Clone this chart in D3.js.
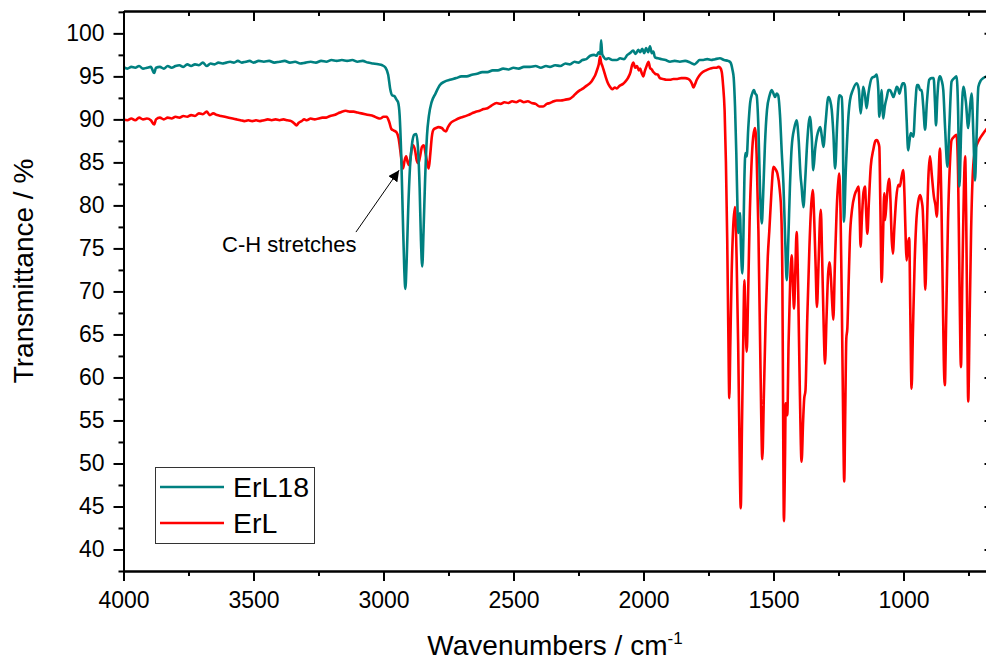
<!DOCTYPE html>
<html><head><meta charset="utf-8">
<script src="https://cdn.jsdelivr.net/npm/d3@7"></script>
<style>
html,body{margin:0;padding:0;background:#fff;}
svg text{font-family:"Liberation Sans",Arial,sans-serif;fill:#000;}
</style></head>
<body>
<svg id="chart" width="986" height="660"></svg>
<script>
// ---------- data ----------
const seriesNames = ["ErL18", "ErL"];
const seriesColors = ["#008080", "#ff0000"];
const xMajorTicks = [4000, 3500, 3000, 2500, 2000, 1500, 1000];
const yMajorTicks = [40, 45, 50, 55, 60, 65, 70, 75, 80, 85, 90, 95, 100];
const annotationText = "C-H stretches";

const erl18 = [[4000,96.1],[3985,95.9],[3970,96.1],[3955,96.0],[3940,96.2],[3925,95.9],[3910,96.0],[3895,96.1],[3882,95.4],[3875,96.0],[3860,96.1],[3845,95.9],[3830,96.2],[3815,96.0],[3800,96.2],[3785,96.3],[3770,96.1],[3755,96.4],[3740,96.2],[3725,96.4],[3710,96.3],[3695,96.6],[3680,96.2],[3665,96.5],[3650,96.4],[3635,96.6],[3620,96.5],[3605,96.6],[3590,96.7],[3575,96.6],[3560,96.8],[3545,96.6],[3530,96.7],[3515,96.8],[3500,96.6],[3480,96.8],[3460,96.7],[3440,96.8],[3420,96.6],[3400,96.7],[3380,96.8],[3360,96.6],[3340,96.7],[3320,96.5],[3300,96.6],[3280,96.7],[3260,96.6],[3240,96.8],[3220,96.7],[3200,96.9],[3180,96.8],[3160,96.9],[3140,96.8],[3120,96.9],[3100,96.7],[3080,96.8],[3060,96.6],[3040,96.5],[3020,96.4],[3005,96.3],[2992,96.0],[2982,95.2],[2974,93.5],[2967,92.8],[2958,92.7],[2950,92.3],[2944,92.0],[2938,90.5],[2932,86.0],[2926,79.0],[2920,72.5],[2916,70.3],[2911,73.5],[2905,79.5],[2898,84.5],[2890,87.2],[2882,88.2],[2874,88.3],[2867,86.5],[2861,82.0],[2856,76.0],[2851,72.9],[2846,77.0],[2840,83.0],[2833,88.0],[2825,90.5],[2815,92.0],[2800,93.0],[2783,94.0],[2765,94.4],[2745,94.6],[2720,94.8],[2700,95.0],[2680,95.0],[2660,95.2],[2640,95.3],[2620,95.5],[2600,95.5],[2580,95.7],[2560,95.7],[2540,95.9],[2520,95.8],[2500,96.0],[2480,95.9],[2460,96.1],[2437,96.1],[2415,96.2],[2395,96.0],[2375,96.2],[2360,96.1],[2340,96.3],[2320,96.2],[2300,96.5],[2283,96.4],[2265,96.7],[2250,96.6],[2235,96.9],[2220,97.0],[2205,97.4],[2190,97.5],[2180,97.4],[2173,97.8],[2166,97.6],[2163,99.2],[2159,97.6],[2152,97.2],[2145,97.0],[2135,97.1],[2120,96.9],[2103,96.9],[2090,97.1],[2075,97.0],[2062,97.5],[2052,97.7],[2040,98.0],[2030,97.6],[2020,98.1],[2013,97.8],[2005,98.2],[1997,97.7],[1990,98.3],[1982,97.8],[1975,98.5],[1968,97.7],[1962,97.9],[1956,97.2],[1945,97.1],[1930,97.0],[1915,96.9],[1898,96.7],[1880,96.8],[1860,96.7],[1840,96.8],[1820,96.6],[1805,96.4],[1795,96.6],[1785,96.9],[1770,96.9],[1755,97.0],[1740,96.9],[1725,97.0],[1706,97.1],[1690,96.9],[1675,96.8],[1665,96.6],[1658,95.8],[1653,94.8],[1648,91.5],[1643,86.0],[1638,79.0],[1635,76.8],[1632,78.0],[1629,79.1],[1625,75.0],[1620,72.1],[1616,76.0],[1612,83.0],[1608,86.1],[1603,85.7],[1597,89.0],[1590,91.9],[1582,93.0],[1575,93.4],[1570,93.0],[1565,92.8],[1558,89.0],[1552,82.0],[1545,77.9],[1540,81.0],[1533,87.0],[1525,91.1],[1515,92.8],[1507,93.4],[1500,93.0],[1494,92.6],[1488,93.0],[1482,92.8],[1475,90.5],[1468,86.0],[1462,82.6],[1455,76.0],[1449,71.3],[1443,76.0],[1437,82.0],[1430,86.8],[1420,89.0],[1411,89.9],[1403,87.5],[1396,83.5],[1392,82.2],[1385,79.8],[1378,83.0],[1370,87.5],[1360,90.3],[1353,88.0],[1347,84.1],[1340,86.5],[1333,88.0],[1326,88.8],[1320,89.1],[1314,88.0],[1308,86.8],[1300,89.5],[1289,92.6],[1282,92.2],[1276,91.1],[1270,88.5],[1263,84.3],[1255,89.5],[1247,92.8],[1238,92.6],[1234,90.0],[1229,78.1],[1222,84.0],[1212,90.3],[1206,92.2],[1195,93.4],[1180,94.2],[1172,93.5],[1165,90.7],[1160,92.0],[1155,93.8],[1148,92.8],[1142,91.3],[1135,93.0],[1122,94.8],[1110,95.0],[1103,95.2],[1097,93.5],[1093,90.3],[1088,92.0],[1084,93.4],[1081,91.5],[1078,90.1],[1072,91.5],[1064,92.6],[1058,93.4],[1052,93.4],[1045,93.0],[1039,92.6],[1032,93.2],[1026,93.8],[1020,93.5],[1016,93.0],[1010,93.6],[1003,94.2],[998,94.2],[994,93.8],[988,90.0],[982,86.4],[977,87.5],[972,88.4],[967,88.2],[962,88.0],[955,91.5],[948,94.0],[943,94.0],[936,93.4],[930,93.4],[924,91.5],[917,88.8],[910,92.0],[901,94.6],[892,94.8],[884,94.8],[879,92.0],[875,89.3],[870,92.5],[865,94.5],[860,95.0],[853,94.5],[847,93.4],[840,89.0],[831,84.5],[824,89.0],[815,94.4],[805,94.8],[796,95.0],[790,91.0],[785,82.2],[778,89.0],[770,93.8],[760,92.0],[751,89.0],[744,91.5],[738,93.0],[731,88.0],[725,82.9],[719,88.0],[712,93.8],[703,94.5],[693,94.8],[680,95.0],[665,95.1],[650,95.2]];

const erl = [[4000,90.0],[3985,89.9],[3970,90.1],[3955,89.9],[3940,90.2],[3925,90.0],[3910,90.1],[3895,89.9],[3882,89.4],[3875,90.0],[3860,90.2],[3845,90.0],[3830,90.2],[3815,90.1],[3800,90.3],[3785,90.2],[3770,90.4],[3755,90.3],[3740,90.5],[3725,90.4],[3710,90.7],[3695,90.6],[3680,90.9],[3668,90.5],[3655,90.7],[3640,90.5],[3625,90.4],[3610,90.3],[3595,90.2],[3580,90.1],[3565,90.0],[3550,89.9],[3535,89.8],[3520,89.9],[3505,89.8],[3490,89.9],[3475,89.8],[3460,89.9],[3445,90.0],[3430,89.9],[3415,90.0],[3400,89.9],[3385,90.0],[3370,89.9],[3355,89.8],[3342,89.5],[3335,89.3],[3326,89.6],[3315,89.8],[3305,90.0],[3295,89.9],[3280,90.1],[3265,90.0],[3250,90.1],[3235,90.2],[3220,90.2],[3205,90.4],[3190,90.5],[3175,90.7],[3160,90.9],[3145,91.0],[3130,90.9],[3115,90.9],[3100,90.8],[3085,90.7],[3070,90.6],[3055,90.5],[3040,90.4],[3025,90.2],[3013,90.1],[3000,90.3],[2988,90.3],[2978,89.7],[2970,88.9],[2960,88.7],[2950,88.5],[2942,87.8],[2935,86.3],[2929,84.8],[2925,84.3],[2919,85.2],[2913,85.7],[2907,85.0],[2902,84.7],[2896,85.6],[2890,86.8],[2885,87.0],[2878,86.3],[2872,85.2],[2866,84.9],[2860,85.6],[2852,86.8],[2845,87.0],[2838,86.0],[2831,84.8],[2826,84.3],[2820,86.0],[2814,88.0],[2808,88.8],[2798,89.0],[2789,89.1],[2776,89.0],[2767,88.7],[2760,88.6],[2752,89.1],[2744,89.5],[2725,89.9],[2705,90.2],[2693,90.3],[2675,90.5],[2660,90.7],[2645,90.9],[2630,91.0],[2615,91.2],[2600,91.3],[2585,91.6],[2565,91.9],[2550,91.8],[2535,92.0],[2520,91.9],[2505,92.1],[2490,92.0],[2475,92.2],[2460,92.0],[2445,92.1],[2430,91.9],[2415,91.8],[2400,91.5],[2386,91.5],[2372,91.8],[2360,91.9],[2345,92.1],[2334,92.2],[2318,92.2],[2300,92.3],[2283,92.4],[2270,92.7],[2257,93.1],[2244,93.4],[2232,93.6],[2220,93.9],[2210,94.1],[2200,94.4],[2192,94.8],[2185,95.2],[2178,95.8],[2172,96.4],[2167,97.3],[2163,96.6],[2158,96.2],[2152,95.6],[2146,95.0],[2138,94.3],[2129,93.8],[2120,93.5],[2110,93.7],[2103,93.6],[2092,93.9],[2080,94.1],[2070,94.4],[2060,94.8],[2050,95.5],[2044,96.3],[2039,96.6],[2032,96.0],[2025,96.2],[2018,95.7],[2013,95.9],[2007,95.4],[2001,95.0],[1995,95.6],[1988,96.2],[1981,96.7],[1975,96.0],[1968,95.8],[1962,95.5],[1955,95.3],[1945,95.2],[1937,94.8],[1925,94.7],[1912,94.6],[1898,94.6],[1885,94.7],[1870,94.7],[1855,94.8],[1840,94.8],[1828,94.7],[1820,94.5],[1813,94.1],[1808,93.7],[1803,94.0],[1795,94.6],[1785,95.1],[1772,95.5],[1760,95.7],[1744,95.9],[1730,96.0],[1720,96.0],[1712,96.1],[1705,96.0],[1699,95.5],[1694,94.0],[1688,91.0],[1683,85.0],[1678,76.0],[1674,66.0],[1670,57.6],[1666,64.0],[1661,72.0],[1655,77.5],[1648,79.8],[1642,74.0],[1636,64.0],[1631,53.0],[1626,44.8],[1621,55.0],[1616,65.0],[1612,71.3],[1608,67.0],[1603,63.0],[1598,69.0],[1592,78.0],[1585,84.5],[1578,88.0],[1571,89.0],[1565,86.0],[1558,77.0],[1550,61.0],[1543,50.5],[1537,58.0],[1530,67.0],[1522,74.0],[1516,77.1],[1508,81.5],[1500,84.5],[1492,84.2],[1485,83.7],[1476,81.8],[1470,79.0],[1466,72.0],[1463,56.0],[1460,43.3],[1456,50.0],[1453,57.0],[1449,56.5],[1447,55.6],[1442,64.0],[1436,71.0],[1430,74.2],[1425,70.5],[1421,68.0],[1416,72.5],[1411,76.9],[1405,70.0],[1399,59.0],[1392,50.2],[1386,55.0],[1382,57.5],[1377,58.5],[1370,67.0],[1362,75.0],[1355,80.0],[1349,81.8],[1343,78.0],[1338,73.0],[1333,68.2],[1327,73.0],[1321,78.5],[1318,79.5],[1313,74.0],[1307,66.0],[1302,61.6],[1296,67.0],[1290,72.0],[1285,73.4],[1279,71.5],[1274,68.5],[1270,66.7],[1264,73.0],[1257,79.5],[1250,83.0],[1247,83.7],[1242,79.0],[1237,68.0],[1232,55.0],[1228,47.9],[1224,56.0],[1220,64.5],[1216,65.7],[1211,71.0],[1206,76.3],[1198,79.5],[1188,81.2],[1180,81.8],[1173,82.2],[1169,79.5],[1165,75.2],[1160,78.5],[1154,81.5],[1148,82.2],[1144,79.5],[1139,76.7],[1133,80.5],[1126,84.5],[1116,86.5],[1108,87.5],[1103,87.6],[1097,87.3],[1093,86.8],[1089,80.0],[1084,71.1],[1079,76.0],[1074,81.4],[1071,78.3],[1065,80.5],[1059,82.5],[1055,83.1],[1050,80.5],[1046,76.5],[1041,74.4],[1035,77.5],[1028,80.8],[1020,82.4],[1014,82.2],[1008,83.2],[1001,84.1],[996,81.0],[991,75.5],[988,73.6],[983,75.5],[978,76.2],[974,68.0],[969,58.7],[964,65.0],[957,73.5],[950,78.5],[943,80.5],[936,81.2],[930,80.5],[926,79.5],[921,75.0],[916,70.2],[910,77.5],[904,83.5],[898,85.7],[891,83.5],[883,81.0],[877,80.0],[872,78.7],[866,82.5],[860,86.6],[854,80.0],[849,70.0],[845,62.0],[841,59.1],[836,66.5],[829,78.0],[822,84.5],[815,87.6],[805,88.0],[796,88.2],[790,83.5],[785,72.0],[779,61.2],[774,71.0],[768,81.5],[763,85.7],[759,79.0],[755,67.0],[751,57.2],[746,66.0],[740,77.0],[733,84.0],[725,86.4],[716,87.2],[706,87.8],[695,88.3],[683,88.8],[670,89.2],[650,89.6]];

// annotation: arrow from label to the C-H band (data coords)
const arrowFrom = [3106, 76.9];
const arrowTo = [2940, 84.1];
const annotationAt = [3621, 74.6];

// ---------- layout ----------
const L = 123.5, R = 994.5, T = 11, B = 571;
const svg = d3.select("#chart");
const x = d3.scaleLinear().domain([4000, 650]).range([L, R]);
const y = d3.scaleLinear().domain([37.5, 102.6]).range([B, T]);

const xMinor = d3.range(3750, 600, -500);
const yMinor = d3.range(37.5, 102.6, 5);

svg.append("defs").append("clipPath").attr("id", "clip")
  .append("rect").attr("x", L).attr("y", T).attr("width", R - L).attr("height", B - T);

// lines (red first, teal on top)
const line = d3.line().x(d => x(d[0])).y(d => y(d[1])).curve(d3.curveMonotoneX);
const plot = svg.append("g").attr("clip-path", "url(#clip)");
plot.append("path").datum(erl).attr("d", line)
  .attr("fill", "none").attr("stroke", seriesColors[1]).attr("stroke-width", 2.6).attr("stroke-linejoin", "round");
plot.append("path").datum(erl18).attr("d", line)
  .attr("fill", "none").attr("stroke", seriesColors[0]).attr("stroke-width", 2.6).attr("stroke-linejoin", "round");

// axes
function styleAxis(g) {
  g.selectAll("path.domain").attr("stroke", "#000").attr("stroke-width", 2);
  g.selectAll(".tick line").attr("stroke", "#000").attr("stroke-width", 2);
  g.selectAll("text").attr("font-size", 23).attr("fill", "#000");
}
const gBottom = svg.append("g").attr("transform", `translate(0,${B})`)
  .call(d3.axisBottom(x).tickValues(xMajorTicks).tickSize(10).tickSizeOuter(0).tickPadding(11).tickFormat(d3.format("d")));
styleAxis(gBottom);
const gBottomMinor = svg.append("g").attr("transform", `translate(0,${B})`)
  .call(d3.axisBottom(x).tickValues(xMinor).tickSize(5).tickSizeOuter(0).tickFormat(""));
styleAxis(gBottomMinor);

const gTop = svg.append("g").attr("transform", `translate(0,${T})`)
  .call(d3.axisTop(x).tickValues(xMajorTicks).tickSize(-10).tickSizeOuter(0).tickFormat(""));
styleAxis(gTop);
const gTopMinor = svg.append("g").attr("transform", `translate(0,${T})`)
  .call(d3.axisTop(x).tickValues(xMinor).tickSize(-5).tickSizeOuter(0).tickFormat(""));
styleAxis(gTopMinor);

const gLeft = svg.append("g").attr("transform", `translate(${L},0)`)
  .call(d3.axisLeft(y).tickValues(yMajorTicks).tickSize(10).tickSizeOuter(0).tickPadding(9));
styleAxis(gLeft);
const gLeftMinor = svg.append("g").attr("transform", `translate(${L},0)`)
  .call(d3.axisLeft(y).tickValues(yMinor).tickSize(5).tickSizeOuter(0).tickFormat(""));
styleAxis(gLeftMinor);

const gRight = svg.append("g").attr("transform", `translate(${R},0)`)
  .call(d3.axisRight(y).tickValues(yMajorTicks).tickSize(-10).tickSizeOuter(0).tickFormat(""));
styleAxis(gRight);

// axis titles
svg.append("text").attr("x", 555).attr("y", 655).attr("text-anchor", "middle")
  .attr("font-size", 28)
  .html('Wavenumbers / cm<tspan dy="-11" font-size="17">-1</tspan>');
svg.append("text").attr("transform", "translate(33,271) rotate(-90)").attr("text-anchor", "middle")
  .attr("font-size", 28).text("Transmittance / %");

// annotation
svg.append("defs").append("marker").attr("id", "arrow").attr("viewBox", "0 0 10 10")
  .attr("refX", 10).attr("refY", 5).attr("markerWidth", 11).attr("markerHeight", 11)
  .attr("markerUnits", "userSpaceOnUse").attr("orient", "auto")
  .append("path").attr("d", "M0,0 L10,5 L0,10 z").attr("fill", "#000");
svg.append("line")
  .attr("x1", x(arrowFrom[0])).attr("y1", y(arrowFrom[1]))
  .attr("x2", x(arrowTo[0])).attr("y2", y(arrowTo[1]))
  .attr("stroke", "#000").attr("stroke-width", 1).attr("marker-end", "url(#arrow)");
svg.append("text").attr("x", x(annotationAt[0])).attr("y", y(annotationAt[1]))
  .attr("font-size", 22).text(annotationText);

// legend
const lg = svg.append("g");
lg.append("rect").attr("x", 155.5).attr("y", 467.5).attr("width", 159).attr("height", 76)
  .attr("fill", "#fff").attr("stroke", "#333").attr("stroke-width", 1);
seriesNames.forEach((n, i) => {
  const yy = 487 + i * 36;
  lg.append("line").attr("x1", 160).attr("x2", 224).attr("y1", yy).attr("y2", yy)
    .attr("stroke", seriesColors[i]).attr("stroke-width", 2.6);
  lg.append("text").attr("x", 233).attr("y", yy + 10).attr("font-size", 28.5).text(n);
});
</script>
</body></html>
